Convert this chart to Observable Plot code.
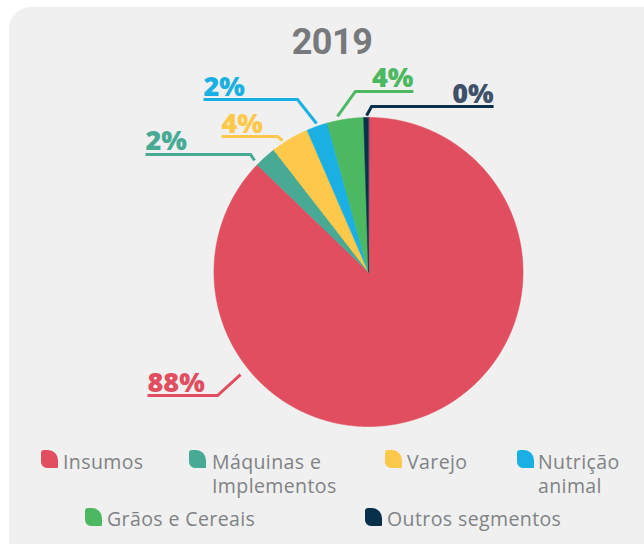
<!DOCTYPE html>
<html><head><meta charset="utf-8">
<script src="https://cdn.jsdelivr.net/npm/d3@7"></script>
<script src="https://cdn.jsdelivr.net/npm/@observablehq/plot@0.6"></script>
<style>
html,body{margin:0;padding:0;background:#fff;width:644px;height:544px;overflow:hidden;position:relative}
#panel{position:absolute;left:9px;top:7px;width:700px;height:580px;border-radius:22px;background:#eff0ef;}
#title{position:absolute;left:232px;width:200px;top:24px;text-align:center;font:700 36px Roboto;color:#78797c;line-height:36px;letter-spacing:-0.5px}
#chart{position:absolute;left:0;top:60px;}
.lg{position:absolute;font:400 19.5px "Open Sans";line-height:24px;color:#818285;white-space:pre;letter-spacing:0.4px}
.ic{position:absolute;width:17px;height:18px;border-radius:3px 10px 1px 6px}
</style></head><body>
<div id="panel"></div><div id="title">2019</div><div id="chart"></div><div id="legend"></div>
<script>
// ---- data ----
const names = ["Insumos", "Máquinas e Implementos", "Varejo", "Nutrição animal", "Grãos e Cereais", "Outros segmentos"];
const values = [87.2, 2.3, 4.0, 2.2, 3.8, 0.5];
const pctLabels = ["88%", "2%", "4%", "2%", "4%", "0%"];
const legendLines = ["Insumos", "Máquinas e\nImplementos", "Varejo", "Nutrição\nanimal", "Grãos e Cereais", "Outros segmentos"];
const title = "2019";

// ---- styles ----
const colors = ["#e04e60", "#48aa95", "#fec84a", "#1ab0e3", "#4cb962", "#07304b"];
const textColors = ["#e04e60", "#48aa95", "#fec84a", "#1ab0e3", "#4cb962", "#3f5169"];

// ---- layout ----
const R = 154.5, CX = 368, CY = 211.5, W = 644, H = 380;
const leaderLayout = [
  {angle: 231.3, r: 164, ex: -23, ey: 21, h: -70},
  {angle: 314.4, r: 159.5, ex: -4, ey: -6, h: -105},
  {angle: 326.8, r: 157.1, ex: -5, ey: -4, h: -56},
  {angle: 340.7, r: 157.3, ex: -19, ey: -24, h: -94},
  {angle: 348.7, r: 158.6, ex: 18, ey: -25, h: 58},
  {angle: 359.3, r: 156.5, ex: 5, ey: -9, h: 122}
];
const legendLayout = [
  {ix: 41, iy: 450, tx: 63, base: 469},
  {ix: 189, iy: 450, tx: 212, base: 469},
  {ix: 385, iy: 450, tx: 407, base: 469},
  {ix: 517, iy: 450, tx: 538, base: 469},
  {ix: 85, iy: 508, tx: 107, base: 526},
  {ix: 365, iy: 508, tx: 387, base: 526}
];

document.getElementById("title").textContent = title;

const total = d3.sum(values);
let acc = 0;
const slices = names.map((n, i) => {
  const a0 = acc / total * 360; acc += values[i]; const a1 = acc / total * 360;
  return {name: n, a0, a1};
});
const pt = (deg, r) => [Math.sin(deg * Math.PI / 180) * r, Math.cos(deg * Math.PI / 180) * r];
const slicePts = slices.flatMap(s => {
  const pts = [{name: s.name, x: 0, y: 0}];
  const n = Math.max(2, Math.ceil((s.a1 - s.a0) / 0.25));
  for (let k = 0; k <= n; k++) {
    const [x, y] = pt(s.a0 + (s.a1 - s.a0) * k / n, 1);
    pts.push({name: s.name, x, y});
  }
  return pts;
});

const leaderPts = [];
const labelPts = [];
names.forEach((n, i) => {
  const L = leaderLayout[i];
  const [sx, sy] = pt(L.angle, L.r / R);
  const exx = sx + L.ex / R, eyy = sy - L.ey / R;
  const fx = exx + L.h / R;
  leaderPts.push({name: n, x: sx, y: sy}, {name: n, x: exx, y: eyy}, {name: n, x: fx, y: eyy});
  labelPts.push({name: n, label: pctLabels[i], x: fx, y: eyy, anchor: L.h < 0 ? "start" : "end", color: textColors[i]});
});

const chart = Plot.plot({
  width: W, height: H, margin: 0,
  x: {domain: [-CX / R, (W - CX) / R], axis: null},
  y: {domain: [(CY - H) / R, CY / R], axis: null},
  color: {domain: names, range: colors},
  style: {background: "transparent", overflow: "visible"},
  marks: [
    Plot.line(slicePts, {x: "x", y: "y", z: "name", fill: "name", stroke: "name", strokeWidth: 0.6, curve: "linear-closed"}),
    Plot.line(leaderPts, {x: "x", y: "y", z: "name", stroke: "name", strokeWidth: 3, strokeLinecap: "butt", strokeLinejoin: "miter", strokeMiterlimit: 4}),
    ...labelPts.map(d => Plot.text([d], {x: "x", y: "y", text: "label", textAnchor: d.anchor, lineAnchor: "bottom", dy: -4,
      fill: d.color, fontSize: 27, fontWeight: 800, fontFamily: '"Open Sans", sans-serif'}))
  ]
});
document.getElementById("chart").appendChild(chart);

const lg = document.getElementById("legend");
names.forEach((n, i) => {
  const L = legendLayout[i];
  const ic = document.createElement("div");
  ic.className = "ic"; ic.style.left = L.ix + "px"; ic.style.top = L.iy + "px"; ic.style.background = colors[i];
  lg.appendChild(ic);
  const t = document.createElement("div");
  t.className = "lg"; t.style.left = L.tx + "px"; t.style.top = (L.base - 19.5) + "px";
  t.textContent = legendLines[i];
  lg.appendChild(t);
});
</script></body></html>
